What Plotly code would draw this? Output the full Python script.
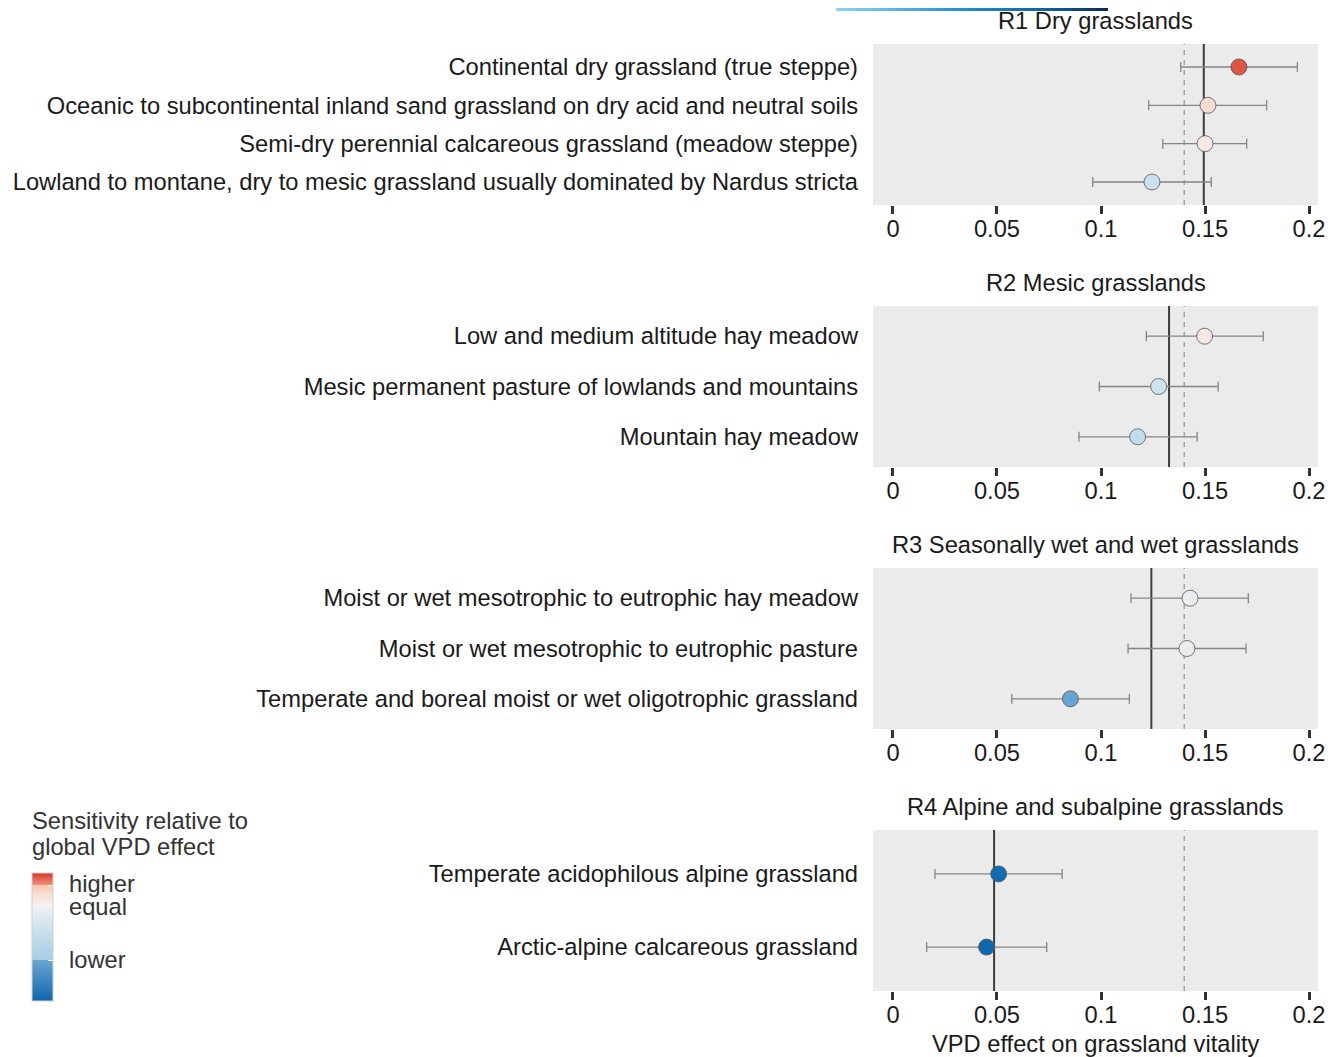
import plotly.graph_objects as go

# ---------------- data ----------------
region_titles = ["R1 Dry grasslands", "R2 Mesic grasslands",
                 "R3 Seasonally wet and wet grasslands", "R4 Alpine and subalpine grasslands"]

R1_labels = ["Continental dry grassland (true steppe)",
             "Oceanic to subcontinental inland sand grassland on dry acid and neutral soils",
             "Semi-dry perennial calcareous grassland (meadow steppe)",
             "Lowland to montane, dry to mesic grassland usually dominated by Nardus stricta"]
R1_effect = [0.1663, 0.1514, 0.1500, 0.1245]
R1_low = [0.1383, 0.1229, 0.1297, 0.0960]
R1_high = [0.1944, 0.1796, 0.1700, 0.1530]
R1_sens = [0.97, 0.84, 0.79, 0.55]

R2_labels = ["Low and medium altitude hay meadow",
             "Mesic permanent pasture of lowlands and mountains",
             "Mountain hay meadow"]
R2_effect = [0.1498, 0.1277, 0.1176]
R2_low = [0.1218, 0.0992, 0.0894]
R2_high = [0.1780, 0.1563, 0.1462]
R2_sens = [0.79, 0.58, 0.50]

R3_labels = ["Moist or wet mesotrophic to eutrophic hay meadow",
             "Moist or wet mesotrophic to eutrophic pasture",
             "Temperate and boreal moist or wet oligotrophic grassland"]
R3_effect = [0.1428, 0.1413, 0.0853]
R3_low = [0.1144, 0.1130, 0.0571]
R3_high = [0.1708, 0.1697, 0.1136]
R3_sens = [0.71, 0.71, 0.31]

R4_labels = ["Temperate acidophilous alpine grassland",
             "Arctic-alpine calcareous grassland"]
R4_effect = [0.0508, 0.0450]
R4_low = [0.0202, 0.0162]
R4_high = [0.0813, 0.0739]
R4_sens = [0.02, 0.00]

region_mean = [0.1494, 0.1327, 0.1242, 0.0486]
global_effect = 0.140

x_tickvals = [0, 0.05, 0.1, 0.15, 0.2]
x_ticktext = ["0", "0.05", "0.1", "0.15", "0.2"]

legend_title_lines = ["Sensitivity relative to", "global VPD effect"]
legend_tickvals = [0.906, 0.75, 0.32]
legend_ticktext = ["higher", "equal", "lower"]

top_bar_values = [0.0, 1.0]

# ---------------- figure ----------------
OFF = 8                      # page body margin
W, H = 1339 - OFF, 1057 - OFF
FONT = "Liberation Sans, Arial, sans-serif"
FS = 23.7

def fx(p):
    return (p - OFF) / W

def fy(p):
    return 1 - (p - OFF) / H

panel_px = [(44, 205), (306, 467), (568, 729), (830, 991)]
x_dom = [fx(873), fx(1318)]

sens_scale = [
    [0.0, "#0F67AE"], [0.32, "#6AA6D2"], [0.3201, "#A6CDE4"],
    [0.55, "#C9E0ED"], [0.75, "#F2F2F2"], [0.76, "#F5EFEC"],
    [0.84, "#F8DCD0"], [0.905, "#F8C3AE"], [0.906, "#F0917A"], [1.0, "#D6372C"],
]

fig = go.Figure()
panels = [
    (R1_labels, R1_effect, R1_low, R1_high, R1_sens),
    (R2_labels, R2_effect, R2_low, R2_high, R2_sens),
    (R3_labels, R3_effect, R3_low, R3_high, R3_sens),
    (R4_labels, R4_effect, R4_low, R4_high, R4_sens),
]

layout_axes = {}
shapes = []
annotations = []
for i, (labs, eff, lo, hi, sens) in enumerate(panels):
    n = i + 1
    xa = "x" if n == 1 else f"x{n}"
    ya = "y" if n == 1 else f"y{n}"
    fig.add_trace(go.Scatter(
        x=eff, y=labs, mode="markers", xaxis=xa, yaxis=ya, showlegend=False,
        error_x=dict(type="data", symmetric=False,
                     array=[h - e for h, e in zip(hi, eff)],
                     arrayminus=[e - l for e, l in zip(eff, lo)],
                     color="#858585", thickness=1.3, width=5),
        marker=dict(size=16, color=sens, coloraxis="coloraxis",
                    line=dict(color="#555555", width=0.8)),
        cliponaxis=False,
    ))
    top, bot = panel_px[i]
    xkey = "xaxis" if n == 1 else f"xaxis{n}"
    ykey = "yaxis" if n == 1 else f"yaxis{n}"
    layout_axes[xkey] = dict(
        domain=x_dom, anchor=ya, range=[-0.0096, 0.2043],
        tickvals=x_tickvals, ticktext=x_ticktext,
        ticks="outside", ticklen=8, tickwidth=2.5, tickcolor="#333333",
        ticklabelstandoff=-5,
        showgrid=False, zeroline=False, showline=False,
        tickfont=dict(size=FS, color="#1A1A1A", family=FONT),
        automargin=False, fixedrange=True,
    )
    layout_axes[ykey] = dict(
        domain=[fy(bot), fy(top)], anchor=xa, type="category",
        categoryorder="array", categoryarray=labs,
        range=[len(labs) - 0.4, -0.6],
        showgrid=False, zeroline=False, showline=False, ticks="",
        ticklabelstandoff=14,
        tickfont=dict(size=FS, color="#1A1A1A", family=FONT),
        automargin=False, fixedrange=True,
    )
    yd = f"{ya} domain"
    shapes.append(dict(type="line", xref=xa, yref=yd, x0=global_effect, x1=global_effect,
                       y0=0, y1=1, layer="below",
                       line=dict(color="#9A9A9A", width=1.3, dash="5px,5px")))
    shapes.append(dict(type="line", xref=xa, yref=yd, x0=region_mean[i], x1=region_mean[i],
                       y0=0, y1=1, layer="below",
                       line=dict(color="#3C3C3C", width=2)))
    annotations.append(dict(text=region_titles[i], xref="paper", yref="paper",
                            x=(x_dom[0] + x_dom[1]) / 2, y=fy(top - 23), xanchor="center",
                            yanchor="middle", showarrow=False,
                            font=dict(size=FS, color="#1A1A1A", family=FONT)))

# x-axis title
annotations.append(dict(text="VPD effect on grassland vitality", xref="paper", yref="paper",
                        x=(x_dom[0] + x_dom[1]) / 2, y=fy(1044), xanchor="center", yanchor="middle",
                        showarrow=False, font=dict(size=FS, color="#1A1A1A", family=FONT)))

# legend title (two lines, tight spacing) and labels
for k, line in enumerate(legend_title_lines):
    annotations.append(dict(text=line, xref="paper", yref="paper",
                            x=fx(30), y=fy(821 + 26 * k), xanchor="left", yanchor="middle",
                            showarrow=False, font=dict(size=FS, color="#333333", family=FONT)))
bar_top, bar_bot = 873, 1001
label_nudge = {"higher": 1, "equal": -2, "lower": 0}
for v, t in zip(legend_tickvals, legend_ticktext):
    ypx = bar_bot - v * (bar_bot - bar_top)
    annotations.append(dict(text=t, xref="paper", yref="paper", x=fx(67), y=fy(ypx),
                            xanchor="left", yanchor="middle", showarrow=False,
                            yshift=label_nudge[t],
                            font=dict(size=FS, color="#333333", family=FONT)))

# top partial gradient bar (cropped legend)
fig.add_trace(go.Heatmap(
    z=[top_bar_values], x=[0, 1], y=[0], xaxis="x5", yaxis="y5",
    colorscale=[[0, "#8DD3F3"], [0.45, "#2590D0"], [0.8, "#0D5C97"], [1, "#0B2A4E"]],
    zsmooth="best", showscale=False, hoverinfo="skip",
))
layout_axes["xaxis5"] = dict(domain=[fx(836), fx(1108)], anchor="y5", range=[0, 1],
                             visible=False, fixedrange=True)
layout_axes["yaxis5"] = dict(domain=[1 - 3 / H, 1], anchor="x5", range=[-0.5, 0.5],
                             visible=False, fixedrange=True)

fig.update_layout(
    width=W, height=H,
    margin=dict(l=0, r=0, t=0, b=0),
    paper_bgcolor="white", plot_bgcolor="#EBEBEB",
    font=dict(family=FONT, size=FS, color="#1A1A1A"),
    shapes=shapes, annotations=annotations,
    coloraxis=dict(
        colorscale=sens_scale, cmin=0, cmax=1,
        colorbar=dict(
            x=fx(32), xanchor="left", y=fy(bar_top), yanchor="top",
            len=bar_bot - bar_top, lenmode="pixels",
            thickness=21, thicknessmode="pixels",
            xpad=0, ypad=0, outlinewidth=1, outlinecolor="#D0D0D0",
            tickvals=legend_tickvals, ticks="inside", ticklen=5,
            tickcolor="white", tickwidth=1.3, showticklabels=False,
        ),
    ),
    **layout_axes,
)

fig.write_html("out.html")
